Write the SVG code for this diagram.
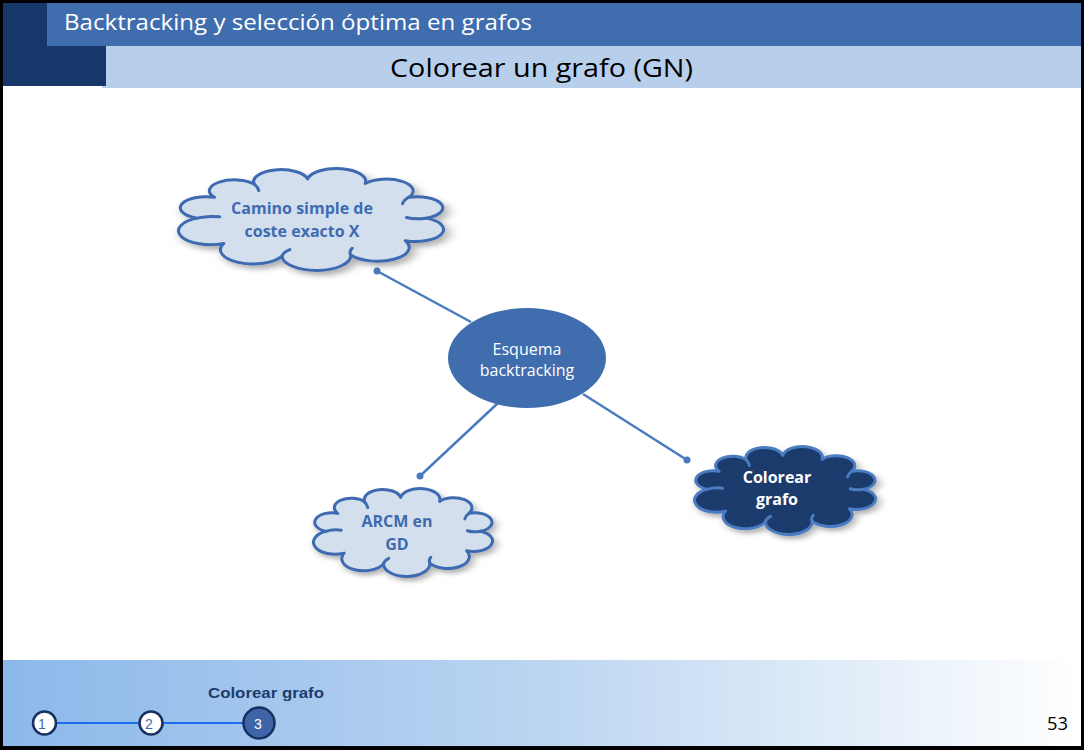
<svg xmlns="http://www.w3.org/2000/svg" width="1084" height="750" viewBox="0 0 1084 750">
<style>
.ct{font-family:"Open Sans","Liberation Sans",sans-serif;font-weight:bold;font-size:16px;text-anchor:middle}
.light .ct{fill:#3E6BB0}
.dark .ct{fill:#FFFFFF}
.conn line{stroke:#4A7BC0;stroke-width:2.5}
.conn circle{fill:#4A7BC0}
.num{font-family:"Liberation Sans",sans-serif;font-size:14px;text-anchor:middle}
</style>
<defs>
<linearGradient id="foot" x1="0" y1="0" x2="1" y2="0">
<stop offset="0" stop-color="#8CB8EA"/>
<stop offset="0.5" stop-color="#BBD5F1"/>
<stop offset="1" stop-color="#FFFFFF"/>
</linearGradient>
<filter id="sh" x="-10%" y="-10%" width="125%" height="130%">
<feDropShadow dx="1.5" dy="3" stdDeviation="2" flood-color="#000" flood-opacity="0.3"/>
</filter>
<g id="cloudShape" stroke-width="3" stroke-linejoin="round" stroke-linecap="round">
<path vector-effect="non-scaling-stroke" d="M12,52 A8.45,8.45 0 0 1 17.8,36.1 A8.3,8.3 0 0 1 31,26 A9.05,9.05 0 0 1 48.7,22 A9.7,9.7 0 0 1 67.8,25.5 A8.95,8.95 0 0 1 82.2,36.1 A8.45,8.45 0 0 1 88,52 A9.25,9.25 0 0 1 81.1,69.2 A10.6,10.6 0 0 1 63,80.2 A11.4,11.4 0 0 1 40.2,81 A10.8,10.8 0 0 1 20.9,71.3 A10.6,10.6 0 0 1 12,52 Z"/>
<path vector-effect="non-scaling-stroke" fill="none" d="M12,52 Q15.5,50 19.5,51 M31,26 Q32.3,28.5 32.5,31 M82.2,36.1 Q80.5,38.5 80.2,41 M88,52 Q84.5,53.2 81.5,51.5 M40.2,81 Q40.6,78 42.8,76 M63,80.2 Q62.3,77.3 63.5,75"/>
</g>
</defs>
<rect x="0" y="0" width="1084" height="750" fill="#000"/>
<rect x="3" y="3" width="1078" height="743" fill="#FFFFFF"/>
<!-- header -->
<rect x="102" y="46" width="979" height="42" fill="#B8CFEC"/>
<rect x="47" y="3" width="1034" height="43" fill="#3F6DAE"/>
<rect x="3" y="3" width="44" height="43" fill="#17366A"/>
<rect x="3" y="46" width="103" height="40" fill="#17366A"/>
<text x="64" y="30" font-family="Open Sans,Liberation Sans,sans-serif" font-size="22" fill="#FFFFFF" textLength="468" lengthAdjust="spacingAndGlyphs">Backtracking y selección óptima en grafos</text>
<text x="390" y="77" font-family="Open Sans,Liberation Sans,sans-serif" font-size="26" fill="#000000" textLength="303" lengthAdjust="spacingAndGlyphs">Colorear un grafo (GN)</text>
<!-- footer -->
<rect x="3" y="660" width="1078" height="86" fill="url(#foot)"/>
<g id="progress">
<line x1="44" y1="723" x2="258" y2="723" stroke="#1C6CF0" stroke-width="2"/>
<circle cx="44.5" cy="723" r="11.5" fill="#FFFFFF" stroke="#17305E" stroke-width="2.5"/>
<text class="num" x="42" y="729" fill="#3E6BB0">1</text>
<circle cx="151" cy="723" r="11.5" fill="#FFFFFF" stroke="#17305E" stroke-width="2.5"/>
<text class="num" x="149" y="729" fill="#3E6BB0">2</text>
<circle cx="259" cy="723" r="15.5" fill="#3F65A8" stroke="#17305E" stroke-width="2.5"/>
<text class="num" x="258" y="729" fill="#FFFFFF">3</text>
<text x="208" y="698" font-family="Liberation Sans,Arial,sans-serif" font-weight="bold" font-size="15" fill="#1F3C6E" textLength="116" lengthAdjust="spacingAndGlyphs">Colorear grafo</text>
</g>
<text x="1047" y="730" font-family="Open Sans,Liberation Sans,sans-serif" font-size="18" fill="#000" textLength="21" lengthAdjust="spacingAndGlyphs">53</text>
<!-- connectors -->
<g id="connectors" class="conn">
<line x1="377" y1="271" x2="471" y2="322"/>
<circle cx="377" cy="271" r="3.5"/>
<line x1="420" y1="476" x2="498" y2="403"/>
<circle cx="420" cy="476" r="3.5"/>
<line x1="583" y1="394" x2="687" y2="460"/>
<circle cx="687" cy="460" r="3.5"/>
</g>
<!-- nodes -->
<g id="node-camino" class="light">
<use href="#cloudShape" fill="#D4DFEE" stroke="#3E6BB0" transform="translate(160.9,150.1) scale(3.013,1.3085)" filter="url(#sh)"/>
<text class="ct" x="302" y="214">Camino simple de</text>
<text class="ct" x="302" y="237">coste exacto X</text>
</g>
<g id="node-esquema">
<ellipse cx="527" cy="358" rx="79" ry="50" fill="#3F6DAE"/>
<text x="527" y="355" font-family="Open Sans,Liberation Sans,sans-serif" font-size="16" fill="#FFFFFF" text-anchor="middle">Esquema</text>
<text x="527" y="376" font-family="Open Sans,Liberation Sans,sans-serif" font-size="16" fill="#FFFFFF" text-anchor="middle">backtracking</text>
</g>
<g id="node-arcm" class="light">
<use href="#cloudShape" fill="#D4DFEE" stroke="#3E6BB0" transform="translate(301.6,472.6) scale(2.035,1.129)" filter="url(#sh)"/>
<text class="ct" x="397" y="527">ARCM en</text>
<text class="ct" x="397" y="550">GD</text>
</g>
<g id="node-colorear" class="dark">
<use href="#cloudShape" fill="#1B3A6D" stroke="#4A7BC0" transform="translate(682.5,430.6) scale(2.058,1.129)" filter="url(#sh)"/>
<text class="ct" x="777" y="483">Colorear</text>
<text class="ct" x="777" y="505">grafo</text>
</g>
</svg>
